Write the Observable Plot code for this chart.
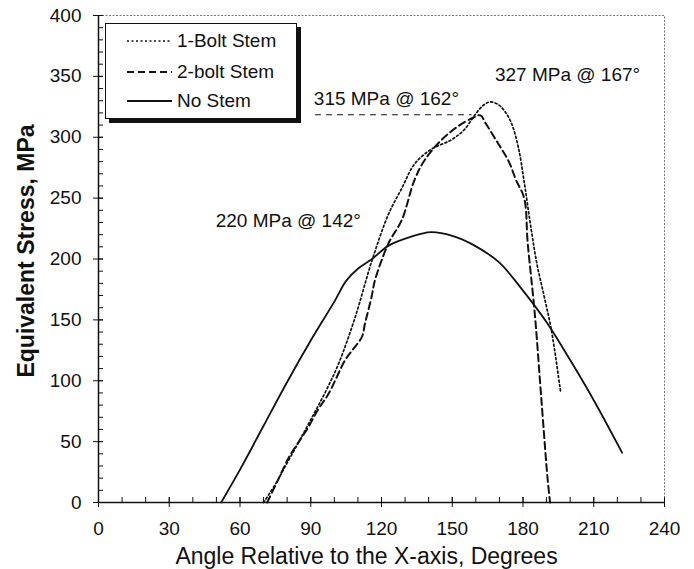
<!DOCTYPE html>
<html>
<head>
<meta charset="utf-8">
<script src="https://cdn.jsdelivr.net/npm/d3@7"></script>
<script src="https://cdn.jsdelivr.net/npm/@observablehq/plot@0.6"></script>
<style>
  body { margin: 0; background: white; }
  #wrap { position: relative; width: 694px; height: 569px; font-family: "Liberation Sans", Arial, sans-serif; }
  #legend { position: absolute; left: 105px; top: 23px; width: 190px; height: 94px; border: 1px solid #111; background: white; box-shadow: 4px 4px 0 #111; }
  .row { position: absolute; left: 0; height: 22px; display: flex; align-items: center; font-size: 19px; color: #111; }
  .row svg { margin-left: 21px; margin-right: 5px; }
</style>
</head>
<body>
<div id="wrap"></div>
<script>
// ---- data ----
const oneBoltAngle  = [70, 75, 79, 85, 90, 96, 101.8, 108.8, 116, 123, 128.6, 134, 141, 149.7, 155, 159.5, 163, 166, 169.4, 172, 175, 178, 180.6, 183.5, 186, 189, 192, 196];
const oneBoltStress = [0, 15, 29, 50, 68, 90, 114, 152, 199, 237, 258, 278, 290, 298, 306, 318, 326, 329, 327, 322, 312, 292, 262, 224, 195, 169, 142, 90];

const twoBoltAngle  = [71.5, 76, 80.7, 85, 89, 93, 97.6, 104.6, 108, 111.7, 113, 115.8, 117.3, 123, 128.6, 134, 138.4, 145.5, 152.5, 158.8, 162, 164, 169.4, 174, 177, 180.5, 182, 185, 187.7, 190.5, 191.5];
const twoBoltStress = [0, 18, 37, 50, 62, 76, 89.5, 117, 126, 136, 147, 169, 183, 213, 232, 265, 281.5, 298, 309, 316, 318, 312, 295, 280, 265, 250, 213, 155, 87, 18, 0];

const noStemAngle  = [52, 60, 70, 80, 90, 100, 105, 110, 116, 123, 132, 141, 150, 159.5, 170, 180, 190, 200, 210, 222];
const noStemStress = [0, 27, 63, 99, 133, 165, 182, 192, 200, 211, 218, 222, 219, 211, 197, 174, 148, 117, 84, 41];

const annotText  = ["327 MPa @ 167°", "315 MPa @ 162°", "220 MPa @ 142°"];
const annotAngle = [168.1, 91.3, 49.7];
const annotStress = [351, 331.5, 231];

// leader (dashed) under the 315 MPa label
const leaderAngle = [92, 158];
const leaderStress = [318.5, 318.5];

const xTicks = [0, 30, 60, 90, 120, 150, 180, 210, 240];
const yTicks = [0, 50, 100, 150, 200, 250, 300, 350, 400];
const xMinor = d3.range(0, 241, 10);
const yMinor = d3.range(0, 401, 10);

const seriesNames = ["1-Bolt Stem", "2-bolt Stem", "No Stem"];

// ---- build tables ----
const toRows = (a, s) => a.map((x, i) => ({x, y: s[i]}));
const oneBolt = toRows(oneBoltAngle, oneBoltStress);
const twoBolt = toRows(twoBoltAngle, twoBoltStress);
const noStem = toRows(noStemAngle, noStemStress);
const annots = annotText.map((t, i) => ({t, x: annotAngle[i], y: annotStress[i]}));
const leader = toRows(leaderAngle, leaderStress);

const ink = "#111";
const font = "'Liberation Sans', Arial, sans-serif";

const chart = Plot.plot({
  width: 694,
  height: 569,
  marginLeft: 98,
  marginRight: 30,
  marginTop: 15,
  marginBottom: 67,
  style: {fontFamily: font, fontSize: "19px", color: ink, background: "white", overflow: "visible"},
  x: {domain: [0, 240]},
  y: {domain: [0, 400]},
  marks: [
    Plot.frame({stroke: "#666", strokeWidth: 0.9, strokeDasharray: "2,1.5"}),
    // minor ticks (inside)
    Plot.axisX(xMinor, {tickSize: -5, text: null, label: null, stroke: ink}),
    Plot.axisY(yMinor, {tickSize: -5, text: null, label: null, stroke: ink}),
    // major ticks (crossing) with labels
    Plot.axisX(xTicks, {tickSize: 5, tickPadding: 14, label: null, stroke: ink, fontSize: 19}),
    Plot.axisY(yTicks, {tickSize: 5, tickPadding: 12, label: null, stroke: ink, fontSize: 19}),
    Plot.axisX(xTicks, {tickSize: -5, text: null, label: null, stroke: ink}),
    Plot.axisY(yTicks, {tickSize: -5, text: null, label: null, stroke: ink}),
    Plot.ruleX([0], {stroke: ink, strokeWidth: 1.5}),
    Plot.ruleY([0], {stroke: ink, strokeWidth: 1.5}),
    // series
    Plot.line(noStem, {x: "x", y: "y", stroke: ink, strokeWidth: 1.8, curve: "catmull-rom"}),
    Plot.line(twoBolt, {x: "x", y: "y", stroke: ink, strokeWidth: 2, strokeDasharray: "7,4", curve: "catmull-rom"}),
    Plot.line(oneBolt, {x: "x", y: "y", stroke: ink, strokeWidth: 1.7, strokeDasharray: "2,2.5", curve: "catmull-rom"}),
    Plot.line(leader, {x: "x", y: "y", stroke: ink, strokeWidth: 1.2, strokeDasharray: "5,6"}),
    // annotations
    Plot.text(annots, {x: "x", y: "y", text: "t", textAnchor: "start", fontSize: 19, fill: ink}),
    // axis titles
    Plot.text(["Angle Relative to the X-axis, Degrees"], {frameAnchor: "bottom", lineAnchor: "middle", textAnchor: "middle", dy: 54, dx: -15, fontSize: 23, fill: ink}),
    Plot.text(["Equivalent Stress, MPa"], {frameAnchor: "left", lineAnchor: "middle", textAnchor: "middle", rotate: -90, dx: -72, dy: -8, fontSize: 23, fontWeight: "bold", fill: ink})
  ]
});

const wrap = document.getElementById("wrap");
wrap.appendChild(chart);

// legend
const legend = document.createElement("div");
legend.id = "legend";
const dashes = ["2,2.5", "7,4", null];
const widths = [1.7, 2, 1.8];
const rowTops = [6, 37, 66];
seriesNames.forEach((name, i) => {
  const row = document.createElement("div");
  row.className = "row";
  row.style.top = rowTops[i] + "px";
  const ns = "http://www.w3.org/2000/svg";
  const svg = document.createElementNS(ns, "svg");
  svg.setAttribute("width", 45);
  svg.setAttribute("height", 10);
  const ln = document.createElementNS(ns, "line");
  ln.setAttribute("x1", 0); ln.setAttribute("x2", 45);
  ln.setAttribute("y1", 5); ln.setAttribute("y2", 5);
  ln.setAttribute("stroke", ink);
  ln.setAttribute("stroke-width", widths[i]);
  if (dashes[i]) ln.setAttribute("stroke-dasharray", dashes[i]);
  svg.appendChild(ln);
  row.appendChild(svg);
  const span = document.createElement("span");
  span.textContent = name;
  row.appendChild(span);
  legend.appendChild(row);
});
wrap.appendChild(legend);
</script>
</body>
</html>
